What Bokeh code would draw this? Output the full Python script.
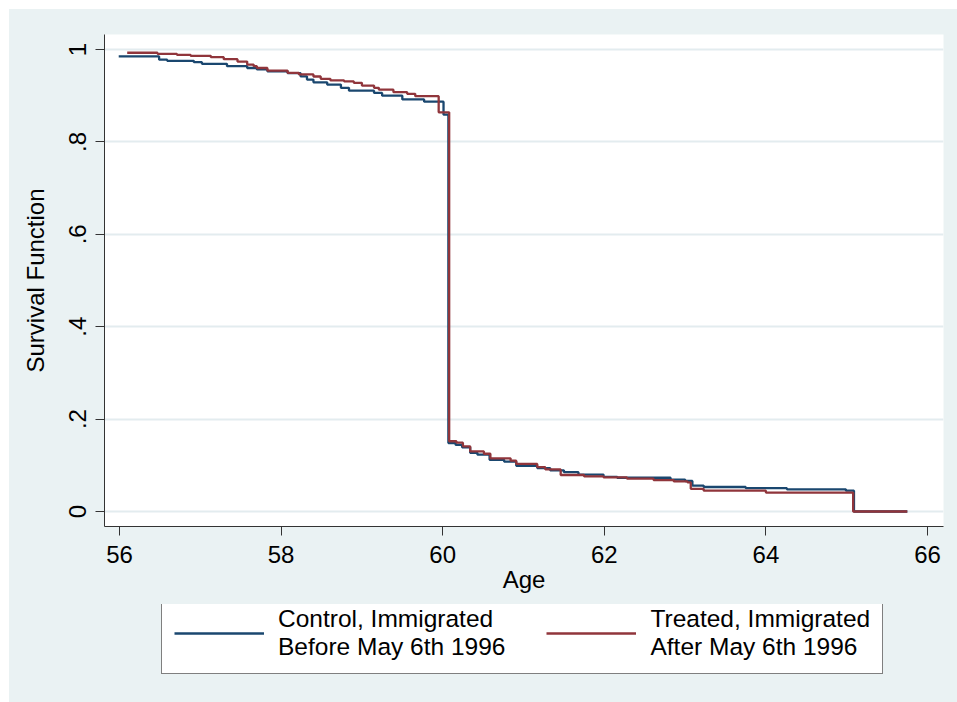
from bokeh.plotting import figure
from bokeh.models import Range1d, FixedTicker, Legend, LegendItem, Spacer
from bokeh.layouts import column, row
from bokeh.embed import file_html
from bokeh.resources import INLINE

# ---- data ----
control_age = [55.99, 56.49, 56.59, 56.92, 57.02, 57.33, 57.58, 57.70, 57.83, 58.08,
               58.24, 58.32, 58.40, 58.57, 58.74, 58.84, 59.15, 59.25, 59.50, 59.77,
               60.01, 60.07, 60.16, 60.24, 60.34, 60.43, 60.58, 60.76, 60.91, 61.17,
               61.33, 61.50, 61.68, 61.99, 62.16, 62.82, 63.00, 63.09, 63.23, 63.75,
               64.26, 64.99, 65.09, 65.75]
control_surv = [0.985, 0.978, 0.9755, 0.9726, 0.969, 0.964, 0.960, 0.957, 0.953, 0.949,
                0.942, 0.935, 0.929, 0.924, 0.917, 0.911, 0.906, 0.900, 0.892, 0.887,
                0.859, 0.148, 0.144, 0.139, 0.127, 0.123, 0.112, 0.108, 0.099, 0.094,
                0.089, 0.085, 0.080, 0.075, 0.073, 0.069, 0.066, 0.056, 0.053, 0.0505,
                0.048, 0.045, 0.0, 0.0]

treated_age = [56.095, 56.47, 56.71, 56.88, 57.13, 57.29, 57.46, 57.58, 57.66, 57.70,
               57.83, 58.08, 58.22, 58.40, 58.49, 58.61, 58.78, 58.90, 59.00, 59.15,
               59.21, 59.39, 59.56, 59.66, 59.95, 60.08, 60.17, 60.25, 60.34, 60.51,
               60.59, 60.84, 60.91, 61.17, 61.27, 61.46, 61.75, 61.99, 62.28, 62.61,
               62.86, 63.03, 63.07, 63.23, 64.00, 65.08, 65.75]
treated_surv = [0.993, 0.9907, 0.9885, 0.9863, 0.9834, 0.979, 0.974, 0.9675, 0.964, 0.960,
                0.9545, 0.9495, 0.946, 0.9416, 0.9366, 0.933, 0.931, 0.928, 0.922, 0.917,
                0.913, 0.9076, 0.904, 0.899, 0.864, 0.152, 0.149, 0.141, 0.130, 0.125,
                0.115, 0.110, 0.103, 0.096, 0.091, 0.079, 0.076, 0.074, 0.071, 0.068,
                0.065, 0.063, 0.049, 0.045, 0.041, 0.0, 0.0]

x_ticks = [56, 58, 60, 62, 64, 66]
y_ticks = [0, 0.2, 0.4, 0.6, 0.8, 1.0]
y_tick_labels = ["0", ".2", ".4", ".6", ".8", "1"]
series_labels = ["Control, Immigrated\nBefore May 6th 1996",
                 "Treated, Immigrated\nAfter May 6th 1996"]
x_title = "Age"
y_title = "Survival Function"

BG = "#EAF2F3"
NAVY = "#1A476F"
MAROON = "#90353B"
FONT = "Liberation Sans"

# main plot: frame at x 104..943, y 34..526 on the page
p = figure(width=948, height=595, output_backend="svg", toolbar_location=None,
           x_range=Range1d(55.814, 66.198), y_range=Range1d(-0.0325, 1.0325),
           min_border_left=95, min_border_right=14, min_border_top=25,
           min_border_bottom=78)
p.border_fill_color = BG
p.background_fill_color = "white"
p.outline_line_color = None

p.xgrid.grid_line_color = None
p.ygrid.grid_line_color = "#E3ECEF"
p.ygrid.grid_line_width = 2
p.ygrid.ticker = FixedTicker(ticks=y_ticks)

p.xaxis.ticker = FixedTicker(ticks=x_ticks)
p.yaxis.ticker = FixedTicker(ticks=y_ticks)
p.yaxis.major_label_overrides = {t: l for t, l in zip(y_ticks, y_tick_labels)}
p.yaxis.major_label_orientation = "vertical"

for ax in (p.xaxis, p.yaxis):
    ax.axis_line_color = "#333333"
    ax.axis_line_width = 1
    ax.major_tick_line_color = "#333333"
    ax.major_tick_out = 9
    ax.major_tick_in = 0
    ax.minor_tick_line_color = None
    ax.major_label_text_font = FONT
    ax.major_label_text_font_size = "24px"
    ax.major_label_text_color = "black"
    ax.axis_label_text_font = FONT
    ax.axis_label_text_font_size = "24px"
    ax.axis_label_text_font_style = "normal"
    ax.axis_label_text_color = "black"

p.xaxis.axis_label = x_title
p.xaxis.major_label_standoff = 10
p.xaxis.axis_label_standoff = 0
p.yaxis.axis_label = y_title
p.yaxis.major_label_standoff = 9
p.yaxis.axis_label_standoff = 18

p.step(control_age, control_surv, mode="after", line_color=NAVY, line_width=2.3)
p.step(treated_age, treated_surv, mode="after", line_color=MAROON, line_width=2.3)

# legend strip below the plot (same background); its frame lines up with the plot's
lf = figure(width=948, height=98, output_backend="svg", toolbar_location=None,
            x_range=Range1d(0, 1), y_range=Range1d(0, 1),
            min_border_left=0, min_border_right=0, min_border_top=0,
            min_border_bottom=0, x_axis_location=None, y_axis_location=None)
lf.border_fill_color = BG
lf.background_fill_color = None
lf.outline_line_color = None
lf.grid.visible = False
# legend key renderers only (kept outside the visible range)
k1 = lf.line(x=[-2, -1], y=[-2, -1], line_color=NAVY, line_width=2.3)
k2 = lf.line(x=[-2, -1], y=[-2, -1], line_color=MAROON, line_width=2.3)

legend = Legend(items=[LegendItem(label=series_labels[0], renderers=[k1]),
                       LegendItem(label=series_labels[1], renderers=[k2])],
                orientation="horizontal", location=(57, 28),
                glyph_width=90, glyph_height=20, label_standoff=14, spacing=41,
                padding=12, margin=0,
                label_text_font=FONT, label_text_font_size="24.5px",
                label_text_color="black",
                border_line_color="black", border_line_width=1,
                background_fill_color="white", background_fill_alpha=1.0)
lf.add_layout(legend, "center")

inner = column(p, lf, spacing=0, styles={"background-color": BG})
layout = column(Spacer(height=9),
                row(Spacer(width=9), inner, spacing=0),
                spacing=0)

open("out.html", "w").write(file_html(layout, INLINE))
